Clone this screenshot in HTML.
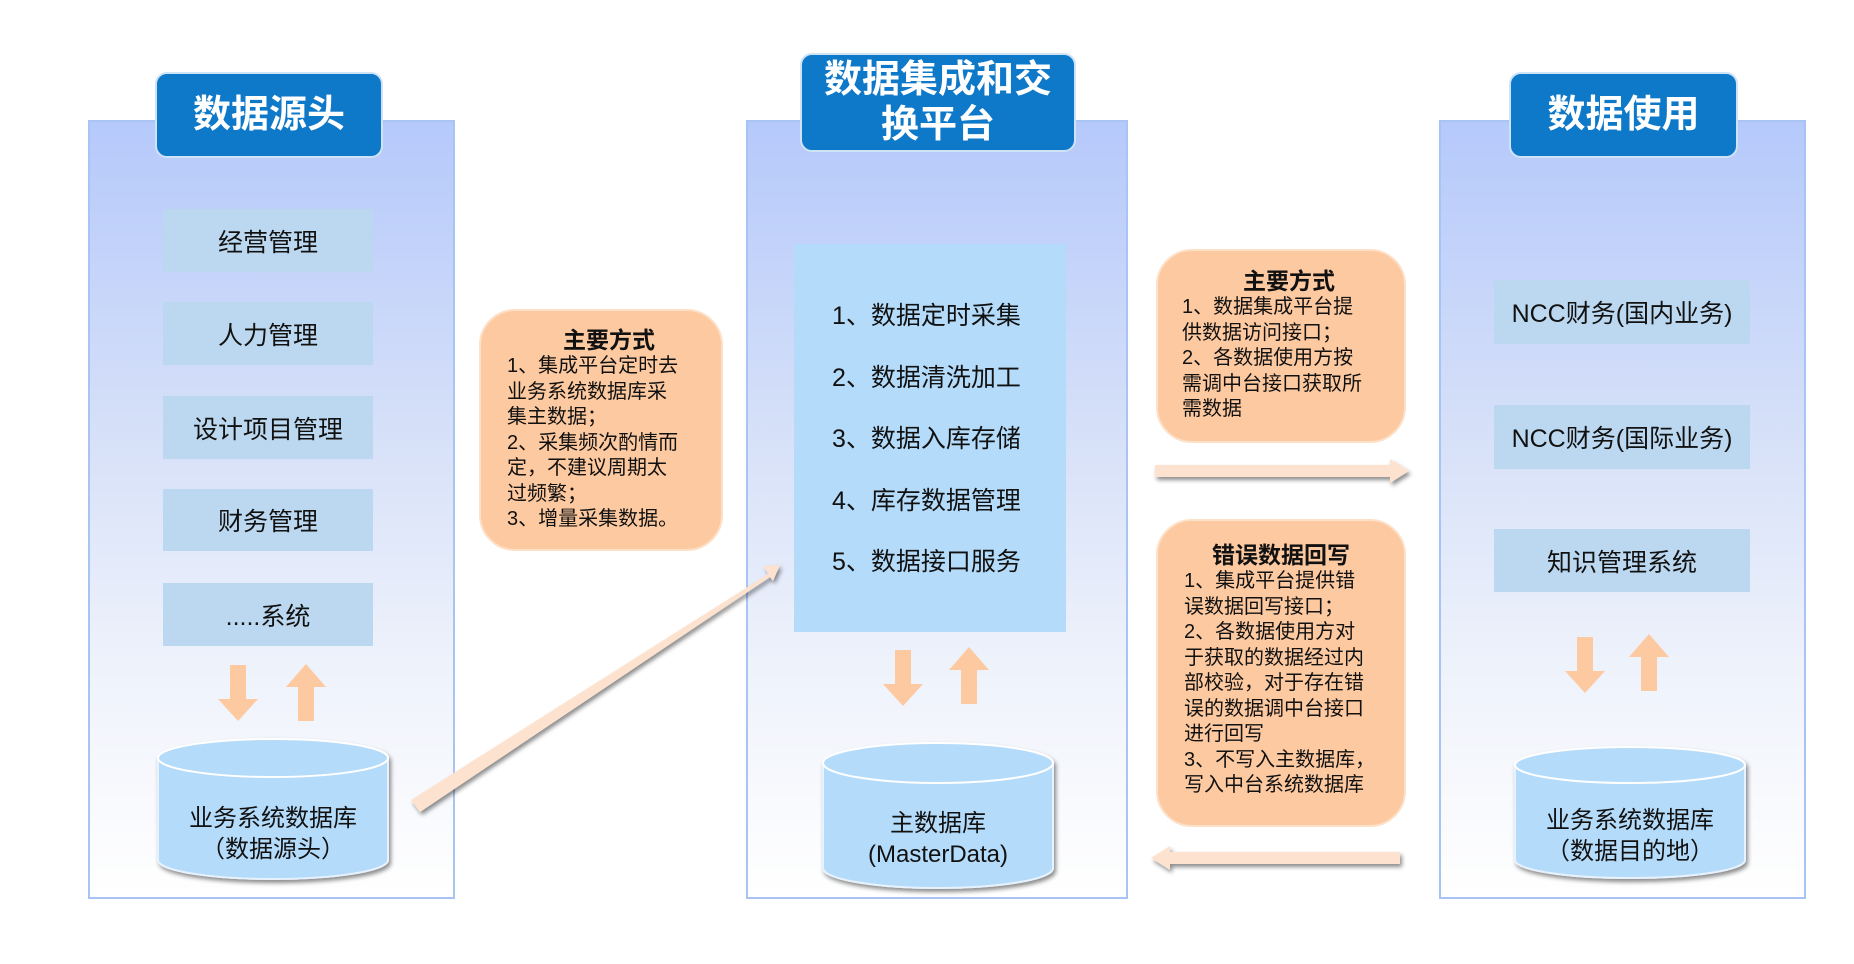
<!DOCTYPE html>
<html><head><meta charset="utf-8"><style>
body{margin:0;width:1854px;height:964px;background:#fff;position:relative;overflow:hidden;font-family:"Liberation Sans","Noto Sans CJK SC",sans-serif;}
.panel{position:absolute;top:120px;height:779px;border:2px solid #a8c4f5;background:linear-gradient(#b5c9fb 0%,#d6e0f8 40%,#eef2fb 70%,#ffffff 100%);box-sizing:border-box;}
.tab{position:absolute;background:#0e78c9;color:#fff;border:2px solid #cfe3f7;border-radius:12px;box-sizing:border-box;display:flex;align-items:center;justify-content:center;text-align:center;font-size:38px;line-height:45px;font-weight:bold;}
.box{position:absolute;background:#bcd8f0;display:flex;align-items:center;justify-content:center;font-size:25px;color:#111;}
.or{position:absolute;background:#fdc9a0;border:2px solid #fde0c8;border-radius:36px;box-sizing:border-box;font-size:20px;line-height:25.5px;color:#111;white-space:nowrap;}
.or b{display:block;text-align:center;font-size:23px;line-height:28px;}
.mid{position:absolute;left:794px;top:244px;width:272px;height:388px;background:#b4dbfa;}
.mid div{position:absolute;left:38px;font-size:25px;color:#111;}
svg{position:absolute;left:0;top:0;}
.ct{position:absolute;text-align:center;font-size:24px;line-height:31px;color:#111;}
</style></head><body>
<div class="panel" style="left:88px;width:367px;"></div>
<div class="panel" style="left:746px;width:382px;"></div>
<div class="panel" style="left:1439px;width:367px;"></div>

<div class="tab" style="left:155px;top:72px;width:228px;height:86px;">数据源头</div>
<div class="tab" style="left:800px;top:53px;width:276px;height:99px;">数据集成和交<br>换平台</div>
<div class="tab" style="left:1509px;top:72px;width:229px;height:86px;">数据使用</div>

<div class="box" style="left:163px;top:209px;width:210px;height:63px;">经营管理</div>
<div class="box" style="left:163px;top:302px;width:210px;height:63px;">人力管理</div>
<div class="box" style="left:163px;top:396px;width:210px;height:63px;">设计项目管理</div>
<div class="box" style="left:163px;top:489px;width:210px;height:62px;">财务管理</div>
<div class="box" style="left:163px;top:583px;width:210px;height:63px;">.....系统</div>

<div class="box" style="left:1494px;top:280px;width:256px;height:64px;">NCC财务(国内业务)</div>
<div class="box" style="left:1494px;top:405px;width:256px;height:64px;">NCC财务(国际业务)</div>
<div class="box" style="left:1494px;top:529px;width:256px;height:63px;">知识管理系统</div>

<div class="mid">
<div style="top:52px">1、数据定时采集</div>
<div style="top:114px">2、数据清洗加工</div>
<div style="top:175px">3、数据入库存储</div>
<div style="top:237px">4、库存数据管理</div>
<div style="top:298px">5、数据接口服务</div>
</div>

<div class="or" style="left:479px;top:309px;width:244px;height:242px;padding:15px 10px 0 26px;"><b>主要方式</b>1、集成平台定时去<br>业务系统数据库采<br>集主数据；<br>2、采集频次酌情而<br>定，不建议周期太<br>过频繁；<br>3、增量采集数据。</div>
<div class="or" style="left:1156px;top:249px;width:250px;height:194px;padding:16px 8px 0 24px;"><b>主要方式</b>1、数据集成平台提<br>供数据访问接口；<br>2、各数据使用方按<br>需调中台接口获取所<br>需数据</div>
<div class="or" style="left:1156px;top:519px;width:250px;height:308px;padding:20px 8px 0 26px;"><b style="margin-right:18px">错误数据回写</b>1、集成平台提供错<br>误数据回写接口；<br>2、各数据使用方对<br>于获取的数据经过内<br>部校验，对于存在错<br>误的数据调中台接口<br>进行回写<br>3、不写入主数据库，<br>写入中台系统数据库</div>

<svg width="1854" height="964">
<defs>
<filter id="sh" x="-20%" y="-20%" width="140%" height="160%"><feDropShadow dx="2" dy="3" stdDeviation="2" flood-color="#000" flood-opacity="0.45"/></filter>
</defs>
<g fill="#fdc9a0">
<path d="M230 665h16v34h12l-20 22l-20-22h12z"/>
<path d="M298 721h16v-34h12l-20-23l-20 23h12z"/>
<path d="M895 650h16v34h12l-20 22l-20-22h12z"/>
<path d="M961 704h16v-34h12l-20-23l-20 23h12z"/>
<path d="M1577 637h16v34h12l-20 22l-20-22h12z"/>
<path d="M1641 691h16v-34h12l-20-23l-20 23h12z"/>
</g>
<g fill="#fde3cf" filter="url(#sh)">
<path d="M411 800 L768 574 L764 566 L780 565 L773 581 L770 577 L420 812 Z"/>
<path d="M1155 465 H1390 V459 L1409 471 L1390 483 V477 H1155 Z"/>
<path d="M1400 852 H1170 V846 L1151 858 L1170 870 V864 H1400 Z"/>
</g>
<g filter="url(#sh)">
<path d="M158 758 V860 A115 19 0 0 0 388 860 V758 Z" fill="#b4dbfa" stroke="#e6f2fd" stroke-width="2"/>
<ellipse cx="273" cy="758" rx="115" ry="19" fill="#b4dbfa" stroke="#fff" stroke-width="2"/>
<path d="M823 763 V868 A115 20 0 0 0 1053 868 V763 Z" fill="#b4dbfa" stroke="#e6f2fd" stroke-width="2"/>
<ellipse cx="938" cy="763" rx="115" ry="20" fill="#b4dbfa" stroke="#fff" stroke-width="2"/>
<path d="M1515 765 V860 A115 18 0 0 0 1745 860 V765 Z" fill="#b4dbfa" stroke="#e6f2fd" stroke-width="2"/>
<ellipse cx="1630" cy="765" rx="115" ry="18" fill="#b4dbfa" stroke="#fff" stroke-width="2"/>
</g>
</svg>
<div class="ct" style="left:158px;top:803px;width:230px;">业务系统数据库<br>（数据源头）</div>
<div class="ct" style="left:823px;top:808px;width:230px;">主数据库<br>(MasterData)</div>
<div class="ct" style="left:1515px;top:805px;width:230px;">业务系统数据库<br>（数据目的地）</div>
</body></html>
